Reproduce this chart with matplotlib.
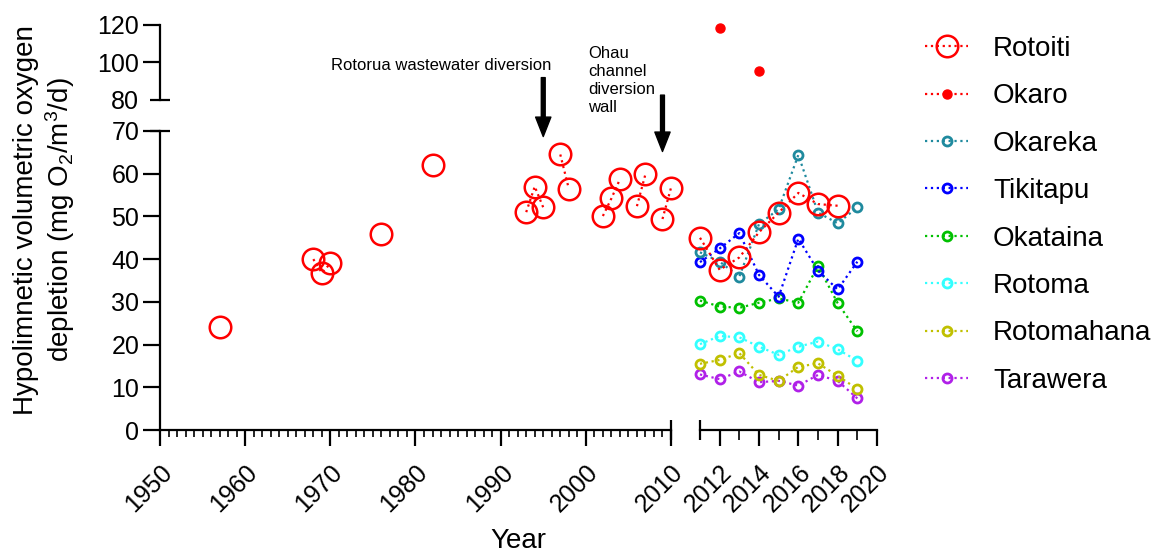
import numpy as np
import matplotlib
matplotlib.use('Agg')
import matplotlib.pyplot as plt
from matplotlib.ticker import MultipleLocator, FixedLocator

plt.rcParams['font.family'] = ['Liberation Sans', 'DejaVu Sans']
plt.rcParams['mathtext.fontset'] = 'custom'
plt.rcParams['mathtext.rm'] = 'Liberation Sans'
plt.rcParams['mathtext.it'] = 'Liberation Sans:italic'

# hypolimnetic volumetric oxygen depletion, mg O2/m3/d
rotoiti_years = [1957, 1968, 1969, 1970, 1976, 1982, 1993, 1994, 1995, 1997, 1998,
                 2002, 2003, 2004, 2006, 2007, 2009, 2010,
                 2011, 2012, 2013, 2014, 2015, 2016, 2017, 2018]
rotoiti_vals = [24.0, 40.0, 36.8, 39.0, 46.0, 62.0, 51.0, 57.0, 52.1, 64.5, 56.5,
                50.1, 54.2, 58.7, 52.4, 59.9, 49.4, 56.7,
                45.0, 37.5, 40.4, 46.3, 50.9, 55.5, 52.9, 52.5]

okaro_years = [2012, 2014]
okaro_vals = [118.5, 95.5]

recent_years = [2011, 2012, 2013, 2014, 2015, 2016, 2017, 2018, 2019]
okareka_vals = [41.6, 39.4, 35.9, 48.2, 51.7, 64.4, 50.9, 48.4, 52.1]
tikitapu_vals = [39.3, 42.5, 46.1, 36.3, 31.2, 44.8, 37.3, 32.9, 39.4]
okataina_vals = [30.3, 28.9, 28.6, 29.8, 30.8, 29.8, 38.4, 29.7, 23.1]
rotoma_vals = [20.1, 22.0, 21.7, 19.5, 17.6, 19.5, 20.7, 18.9, 16.2]
rotomahana_vals = [15.5, 16.4, 18.0, 12.9, 11.5, 14.8, 15.6, 12.7, 9.6]
tarawera_vals = [13.0, 11.9, 13.7, 11.2, 11.5, 10.4, 12.9, 11.5, 7.4]

lake_names = ['Rotoiti', 'Okaro', 'Okareka', 'Tikitapu', 'Okataina',
              'Rotoma', 'Rotomahana', 'Tarawera']
lake_colors = ['#ff0000', '#ff0000', '#1f8a9e', '#0000ff', '#00c000',
               '#33ffff', '#c0c000', '#b020e8']

W, H = 1161, 555


def rect(x0, x1, y0, y1):
    # pixel box (top-left origin) -> figure fraction
    return [x0 / W, 1 - y1 / H, (x1 - x0) / W, (y1 - y0) / H]


def on_grid(years, vals, lo, hi):
    # one slot per year, NaN where there is no value so the dotted line breaks
    grid = np.arange(lo, hi + 1)
    out = np.full(grid.size, np.nan)
    for yr, v in zip(years, vals):
        if lo <= yr <= hi:
            out[yr - lo] = v
    return grid, out


fig = plt.figure(figsize=(W / 100, H / 100), dpi=100)
ax_ll = fig.add_axes(rect(160, 671, 131, 430))
ax_ul = fig.add_axes(rect(160, 671, 25, 100))
ax_lr = fig.add_axes(rect(700, 877, 131, 430))
ax_ur = fig.add_axes(rect(700, 877, 25, 100))

for ax in (ax_ll, ax_lr):
    ax.set_ylim(0, 70)
for ax in (ax_ul, ax_ur):
    ax.set_ylim(80, 120)
for ax in (ax_ll, ax_ul):
    ax.set_xlim(1950, 2010)
for ax in (ax_lr, ax_ur):
    ax.set_xlim(2011, 2020)

lw = 1.6
handles = {}

# small-circle lakes, drawn bottom-up so earlier lakes sit on top
small = [('Tarawera', tarawera_vals), ('Rotomahana', rotomahana_vals),
         ('Rotoma', rotoma_vals), ('Okataina', okataina_vals),
         ('Tikitapu', tikitapu_vals), ('Okareka', okareka_vals)]
for z, (name, vals) in enumerate(small):
    c = lake_colors[lake_names.index(name)]
    x, y = on_grid(recent_years, vals, 2011, 2020)
    ln, = ax_lr.plot(x, y, ls=':', lw=lw, color=c, marker='o', ms=6.5, mew=2,
                     mfc='none', clip_on=False, zorder=3 + z)
    handles[name] = ln

# Okaro only appears above the axis break
x, y = on_grid(okaro_years, okaro_vals, 2011, 2020)
ln, = ax_ur.plot(x, y, ls=':', lw=lw, color=lake_colors[1], marker='o', ms=6.5,
                 clip_on=False, zorder=10)
handles['Okaro'] = ln

# Rotoiti spans both year ranges
for ax, lo, hi in ((ax_ll, 1950, 2010), (ax_lr, 2011, 2020)):
    x, y = on_grid(rotoiti_years, rotoiti_vals, lo, hi)
    ln, = ax.plot(x, y, ls=':', lw=lw, color=lake_colors[0], marker='o', ms=15.5,
                  mew=1.8, mfc='none', clip_on=False, zorder=12)
handles['Rotoiti'] = ln

# axis styling
for ax in (ax_ll, ax_ul, ax_lr, ax_ur):
    ax.patch.set_visible(False)
    for s in ax.spines.values():
        s.set_linewidth(1.6)
    ax.spines['top'].set_visible(False)
    ax.spines['right'].set_visible(False)
    ax.tick_params(which='major', length=11.5, width=1.6, labelsize=18, pad=3)
    ax.tick_params(which='minor', length=5, width=1.2)

ax_ll.yaxis.set_major_locator(MultipleLocator(10))
ax_ll.xaxis.set_major_locator(MultipleLocator(10))
ax_ll.xaxis.set_minor_locator(MultipleLocator(1))
ax_ll.tick_params(axis='y', length=12)
ax_ll.tick_params(axis='x', which='major', pad=10)
ax_ll.yaxis.get_major_ticks()[-1].tick1line.set_visible(False)
ax_ll.xaxis.get_major_ticks()[-1].tick1line.set_visible(False)

ax_ul.set_yticks([80, 100, 120])
ax_ul.tick_params(axis='y', length=12)
ax_ul.yaxis.get_major_ticks()[0].tick1line.set_visible(False)
ax_ul.spines['bottom'].set_visible(False)
ax_ul.set_xticks([])

ax_lr.spines['left'].set_visible(False)
ax_lr.set_yticks([])
ax_lr.xaxis.set_major_locator(FixedLocator([2012, 2014, 2016, 2018, 2020]))
ax_lr.xaxis.set_minor_locator(FixedLocator([2013, 2015, 2017, 2019]))
ax_lr.tick_params(which='minor', length=7)
ax_lr.tick_params(axis='x', which='major', pad=10)

ax_ur.axis('off')

for ax in (ax_ll, ax_lr):
    for lab in ax.get_xticklabels():
        lab.set_rotation(45)
        lab.set_ha('right')
        lab.set_rotation_mode('anchor')

# break caps on the split axes
cap = dict(color='black', mew=1.6, ms=14.5, clip_on=False, zorder=20)
ax_ll.plot([0], [1], marker='_', transform=ax_ll.transAxes, **cap)
ax_ul.plot([0], [0], marker='_', transform=ax_ul.transAxes, **cap)
ax_ll.plot([1], [0], marker='|', transform=ax_ll.transAxes, **cap)
ax_lr.plot([0], [0], marker='|', transform=ax_lr.transAxes, **cap)

# event arrows
arrow = dict(facecolor='black', edgecolor='black', width=2.8, headwidth=11,
             headlength=14, shrink=0)
ax_ll.annotate('', xy=(1995, 68.7), xytext=(1995, 82.5), arrowprops=arrow,
               annotation_clip=False)
ax_ll.annotate('', xy=(2009, 65.2), xytext=(2009, 78.4), arrowprops=arrow,
               annotation_clip=False)
fig.text(441 / W, 1 - 70 / H, 'Rotorua wastewater diversion', ha='center',
         va='baseline', fontsize=12)
fig.text(588 / W, 1 - 46 / H, 'Ohau\nchannel\ndiversion\nwall', ha='left',
         va='top', fontsize=12, linespacing=1.26)

fig.text(45 / W, 1 - 220 / H,
         'Hypolimnetic volumetric oxygen\ndepletion (mg O$_2$/m$^3$/d)',
         rotation=90, ha='center', va='center', fontsize=20,
         multialignment='center')
fig.text(518 / W, 1 - 541 / H, 'Year', ha='center', va='center', fontsize=20)

fig.legend([handles[n] for n in lake_names], lake_names, loc='upper left',
           bbox_to_anchor=(925 / W, 1 - 36 / H), frameon=False, fontsize=20,
           handlelength=1.55, handletextpad=0.9, labelspacing=0.77,
           borderpad=0, borderaxespad=0)

fig.savefig('out.png', dpi=100)
